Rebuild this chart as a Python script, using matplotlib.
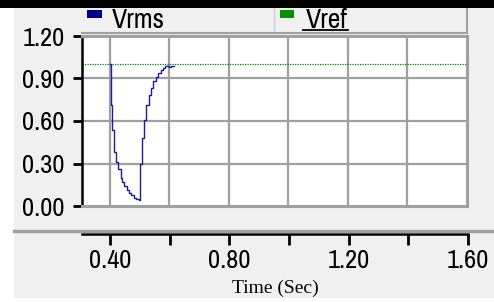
import matplotlib
matplotlib.use("Agg")
import matplotlib.pyplot as plt
from matplotlib.patches import Rectangle
from matplotlib.lines import Line2D

# ---- data ----
t_vrms = [0.400, 0.402, 0.408, 0.414, 0.420, 0.428, 0.436, 0.442, 0.448, 0.456,
          0.464, 0.472, 0.480, 0.488, 0.496, 0.502, 0.508, 0.515, 0.522, 0.530,
          0.538, 0.546, 0.554, 0.562, 0.570, 0.578, 0.586, 0.592, 0.598, 0.604,
          0.610, 0.615]
v_vrms = [1.00, 0.71, 0.54, 0.38, 0.31, 0.26, 0.20, 0.17, 0.14, 0.11,
          0.09, 0.075, 0.06, 0.05, 0.045, 0.30, 0.48, 0.61, 0.71, 0.78,
          0.83, 0.88, 0.91, 0.94, 0.96, 0.975, 0.985, 0.99, 0.98, 0.99,
          0.985, 0.99]
v_ref = 1.0
x_ticks = [0.40, 0.60, 0.80, 1.00, 1.20, 1.40, 1.60]
x_ticklabels = ["0.40", "", "0.80", "", "1.20", "", "1.60"]
y_ticks = [0.00, 0.30, 0.60, 0.90, 1.20]
y_ticklabels = ["0.00", "0.30", "0.60", "0.90", "1.20"]
series_names = ["Vrms", "Vref"]
x_label = "Time (Sec)"

W, H = 494, 302
fig = plt.figure(figsize=(W / 100, H / 100), dpi=100, facecolor="white")

def fx(px):
    return px / W

def fy(py):
    return 1 - py / H

panel = "#f0f0f0"
gridc = "#a0a0a0"
narrow = ["Liberation Sans Narrow", "Arial Narrow", "Archivo Narrow", "Liberation Sans"]

# background panel and top bar
fig.patches.append(Rectangle((fx(14), fy(298)), fx(480), 290 / H, transform=fig.transFigure,
                             facecolor=panel, edgecolor="none", zorder=-10))
fig.patches.append(Rectangle((0, fy(8)), 1, 8 / H, transform=fig.transFigure,
                             facecolor="black", edgecolor="none", zorder=5))
# separator line
fig.lines.append(Line2D([fx(14), 1], [fy(230.5), fy(230.5)], transform=fig.transFigure,
                        color=gridc, lw=2.5, zorder=1))

xlim = (0.306, 1.600)

# main axes
ax = fig.add_axes([fx(82), fy(206), fx(385), 170 / H])
ax.set_facecolor("white")
ax.set_xlim(*xlim)
ax.set_ylim(0, 1.2)
for x in x_ticks[:-1]:
    ax.axvline(x, color=gridc, lw=1.6, zorder=1)
for y in y_ticks[1:-1]:
    ax.axhline(y, color=gridc, lw=1.6, zorder=1)
ax.axhline(v_ref, color="#008000", lw=0.9, ls=(0, (1, 1)), zorder=2)
ax.plot(t_vrms, v_vrms, color="#1c1c9c", lw=1.0, drawstyle="steps-post", zorder=3)
ax.set_xticks([])
ax.set_yticks(y_ticks)
ax.set_yticklabels(y_ticklabels, fontsize=19, family=narrow)
ax.tick_params(axis="y", direction="out", length=6.5, width=2, color="black", pad=6)
ax.spines["left"].set_color("black")
ax.spines["left"].set_linewidth(1.8)
for s in ["right", "bottom", "top"]:
    ax.spines[s].set_color(gridc)
    ax.spines[s].set_linewidth(2.2)

# x axis (separate)
ax2 = fig.add_axes([fx(82), fy(233.5), fx(386), 0.0001])
ax2.set_facecolor("none")
ax2.set_xlim(*xlim)
ax2.set_yticks([])
for s in ["left", "right", "top"]:
    ax2.spines[s].set_visible(False)
ax2.spines["bottom"].set_color("black")
ax2.spines["bottom"].set_linewidth(1.8)
ax2.set_xticks(x_ticks)
ax2.set_xticklabels(x_ticklabels, fontsize=19, family=narrow)
ax2.tick_params(axis="x", direction="out", length=8, width=2, color="black", pad=3)
ax2.set_xlabel(x_label, family="Liberation Serif", fontsize=14, labelpad=6)

# legend bar
lg = fig.add_axes([fx(82), fy(33), fx(385), 25 / H])
lg.set_facecolor(panel)
lg.set_xlim(82, 467)
lg.set_ylim(33, 8)
lg.set_xticks([])
lg.set_yticks([])
for s in ["left", "top"]:
    lg.spines[s].set_visible(False)
for s in ["right", "bottom"]:
    lg.spines[s].set_color(gridc)
    lg.spines[s].set_linewidth(1.5)
lg.axvline(273.5, color="#d0d0d0", lw=1)
lg.add_patch(Rectangle((87, 10), 15, 8, facecolor="#00008b", edgecolor="none"))
lg.add_patch(Rectangle((280, 10), 14, 8, facecolor="#009000", edgecolor="none"))
lg.text(112, 27.5, series_names[0], fontsize=20, family=narrow, va="baseline", ha="left")
lg.text(306, 27.5, series_names[1], fontsize=20, family=narrow, va="baseline", ha="left")
lg.plot([302.5, 348], [29.5, 29.5], color="black", lw=1.3, clip_on=False)

fig.savefig("out.png", dpi=100, facecolor="white")
